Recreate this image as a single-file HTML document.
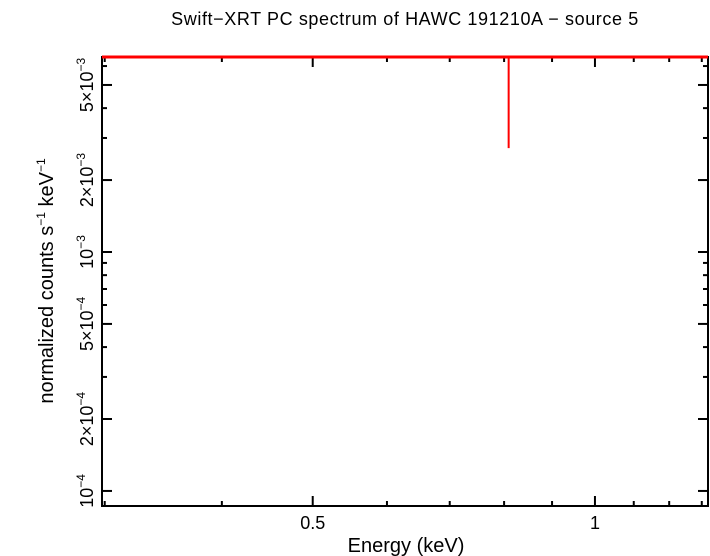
<!DOCTYPE html>
<html><head><meta charset="utf-8"><style>body{margin:0;background:#fff}svg{display:block;font-family:"Liberation Sans",sans-serif}</style></head>
<body>
<svg id="c" width="710" height="556"></svg>
<script>
const xMajor=[0.5,1];
const xMajorLabels=["0.5","1"];
const xMinor=[0.3,0.4,0.6,0.7,0.8,0.9,1.1,1.2,1.3];
const yMajor=[1e-4,2e-4,5e-4,1e-3,2e-3,5e-3];
const yMajorLabels=[["10","−4"],["2×10","−4"],["5×10","−4"],["10","−3"],["2×10","−3"],["5×10","−3"]];
const yMinor=[3e-4,4e-4,6e-4,7e-4,8e-4,9e-4,3e-3,4e-3,6e-3];
const dataE=[0.809];
const dataY=[6.55e-3];
const dataYlo=[2.72e-3];
const modelE=[0.298,1.32];
const modelY=[6.55e-3,6.55e-3];
const L=102,R=708,T=57,B=506;
const xmin=0.298,xmax=1.32,ymin=Math.pow(10,-4.063),ymax=Math.pow(10,-2.184);
const X=v=>L+(Math.log10(v)-Math.log10(xmin))/(Math.log10(xmax)-Math.log10(xmin))*(R-L);
const Y=v=>B-(Math.log10(v)-Math.log10(ymin))/(Math.log10(ymax)-Math.log10(ymin))*(B-T);
const s=document.getElementById('c');const NS='http://www.w3.org/2000/svg';
function mk(t,a,p){const e=document.createElementNS(NS,t);for(const k in a)e.setAttribute(k,a[k]);(p||s).appendChild(e);return e;}
let e;
e=mk('rect',{x:L,y:T,width:R-L,height:B-T,fill:'none',stroke:'#000','stroke-width':2});


xMajor.forEach((v,i)=>{const x=X(v);
e=mk('line',{x1:x,x2:x,y1:B,y2:B-10,stroke:'#000','stroke-width':2});


e=mk('line',{x1:x,x2:x,y1:T,y2:T+10,stroke:'#000','stroke-width':2});


e=mk('text',{x:x,y:529,'text-anchor':'middle','font-size':18});e.textContent=xMajorLabels[i];

});
xMinor.forEach(v=>{const x=X(v);if(x<L||x>R)return;
e=mk('line',{x1:x,x2:x,y1:B,y2:B-5,stroke:'#000','stroke-width':2});


e=mk('line',{x1:x,x2:x,y1:T,y2:T+5,stroke:'#000','stroke-width':2});

});
yMajor.forEach((v,i)=>{const y=Y(v);
e=mk('line',{x1:L,x2:L+10,y1:y,y2:y,stroke:'#000','stroke-width':2});


e=mk('line',{x1:R,x2:R-10,y1:y,y2:y,stroke:'#000','stroke-width':2});


e=mk('text',{transform:`translate(93,${y}) rotate(-90)`,'text-anchor':'middle','font-size':18});
const t1=mk('tspan',{},e);t1.textContent=yMajorLabels[i][0];
const t2=mk('tspan',{dy:-8,'font-size':12},e);t2.textContent=yMajorLabels[i][1];

});
yMinor.forEach(v=>{const y=Y(v);if(y<T||y>B)return;
e=mk('line',{x1:L,x2:L+5,y1:y,y2:y,stroke:'#000','stroke-width':2});


e=mk('line',{x1:R,x2:R-5,y1:y,y2:y,stroke:'#000','stroke-width':2});

});
e=mk('polyline',{points:modelE.map((v,i)=>X(v)+','+Y(modelY[i])).join(' '),fill:'none',stroke:'#f00','stroke-width':3});


dataE.forEach((v,i)=>{const x=X(v);
e=mk('line',{x1:x,x2:x,y1:Y(dataY[i]),y2:Y(dataYlo[i]),stroke:'#f00','stroke-width':2});

});
e=mk('text',{x:405,y:25,'text-anchor':'middle','font-size':18,'letter-spacing':0.6});e.textContent='Swift−XRT PC spectrum of HAWC 191210A − source 5';


e=mk('text',{x:406,y:552,'text-anchor':'middle','font-size':20});e.textContent='Energy (keV)';


e=mk('text',{transform:'translate(53,281) rotate(-90)','text-anchor':'middle','font-size':20});
e.innerHTML='normalized counts s<tspan dy="-8" font-size="12">−1</tspan><tspan dy="8"> keV</tspan><tspan dy="-8" font-size="12">−1</tspan>';


</script>
</body></html>
